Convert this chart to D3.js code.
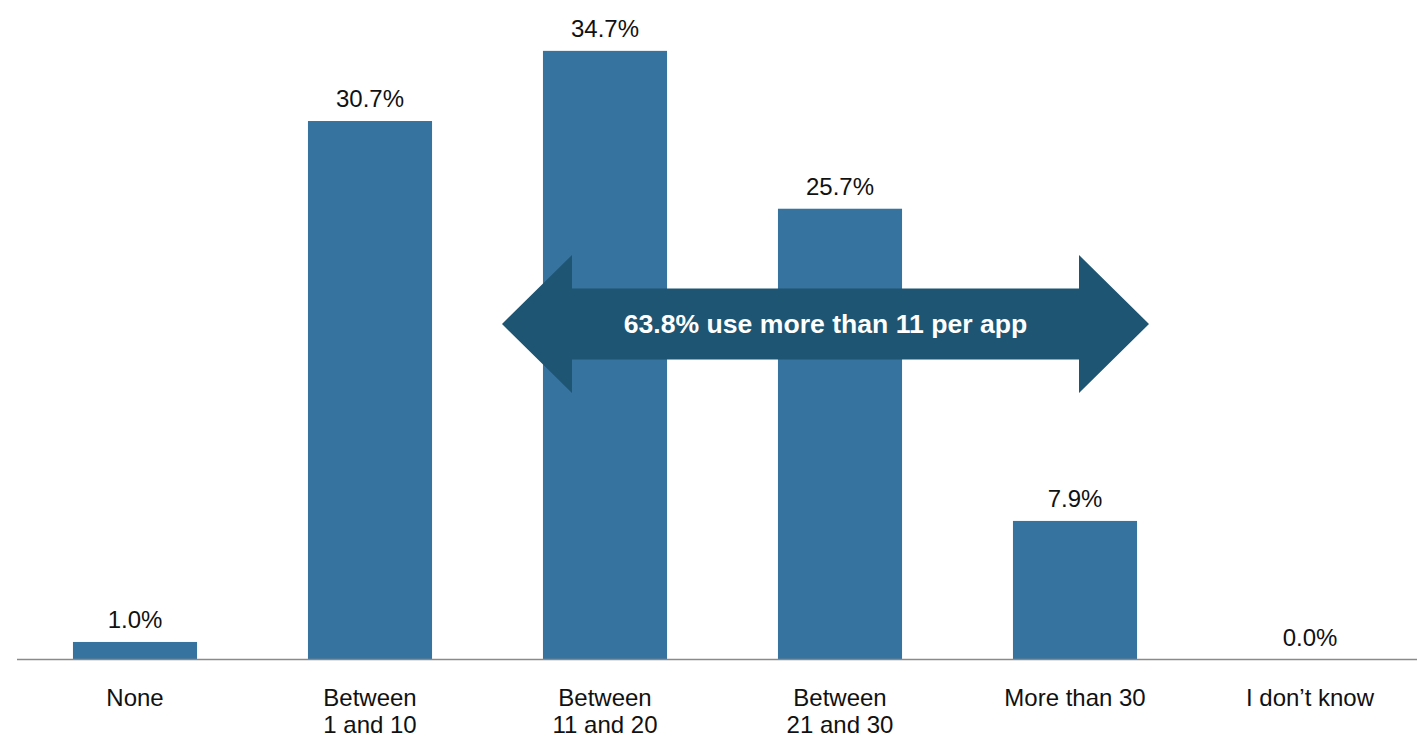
<!DOCTYPE html>
<html>
<head>
<meta charset="utf-8">
<script src="https://cdn.jsdelivr.net/npm/d3@7"></script>
<style>
  html, body { margin: 0; padding: 0; background: #fff; }
  svg { display: block; font-family: "Liberation Sans", Arial, Helvetica, sans-serif; }
</style>
</head>
<body>
<svg id="chart" width="1417" height="738"></svg>
<script>
const categories = [
  ["None"],
  ["Between", "1 and 10"],
  ["Between", "11 and 20"],
  ["Between", "21 and 30"],
  ["More than 30"],
  ["I don\u2019t know"]
];
const values = [1.0, 30.7, 34.7, 25.7, 7.9, 0.0];
const valueLabels = ["1.0%", "30.7%", "34.7%", "25.7%", "7.9%", "0.0%"];
const annotationText = "63.8% use more than 11 per app";

const W = 1417, H = 738;
const baseline = 659.5;
const svg = d3.select("#chart");

const keys = categories.map(c => c.join(" "));
const x = d3.scaleBand()
  .domain(keys)
  .range([17.5, 1427.5])
  .paddingInner(0.472)
  .paddingOuter(0.236);

const y = d3.scaleLinear()
  .domain([0, 37.6])
  .range([baseline, 0]);

const barColor = "#37739f";
const arrowColor = "#1e5573";

// bars
svg.append("g").selectAll("rect")
  .data(values)
  .join("rect")
  .attr("x", (d, i) => x(keys[i]))
  .attr("width", x.bandwidth())
  .attr("y", d => y(d))
  .attr("height", d => baseline - y(d))
  .attr("fill", barColor);

// value labels
svg.append("g").selectAll("text")
  .data(values)
  .join("text")
  .attr("x", (d, i) => x(keys[i]) + x.bandwidth() / 2)
  .attr("y", d => y(d) - 14)
  .attr("text-anchor", "middle")
  .attr("font-size", 24)
  .attr("fill", "#111")
  .text((d, i) => valueLabels[i]);

// axis (baseline line + category labels)
const axis = d3.axisBottom(x).tickSize(0).tickPadding(0).tickFormat("");
const gAxis = svg.append("g")
  .attr("transform", `translate(0,${baseline})`)
  .call(axis);
gAxis.select(".domain").remove();
gAxis.append("line")
  .attr("x1", 17).attr("x2", W)
  .attr("y1", 0).attr("y2", 0)
  .attr("stroke", "#8a8a8a")
  .attr("stroke-width", 1.5);

gAxis.selectAll(".tick").each(function(k, i) {
  const t = d3.select(this).append("text")
    .attr("text-anchor", "middle")
    .attr("font-size", 24)
    .attr("fill", "#111");
  categories[i].forEach((line, j) => {
    t.append("tspan")
      .attr("x", 0)
      .attr("y", 46 + j * 27.5)
      .text(line);
  });
});

// double arrow annotation
const ax0 = 502, ax1 = 1149, ay = 324;
const headW = 70, headH = 69, shaftH = 35.5;
const arrowPts = [
  [ax0, ay],
  [ax0 + headW, ay - headH],
  [ax0 + headW, ay - shaftH],
  [ax1 - headW, ay - shaftH],
  [ax1 - headW, ay - headH],
  [ax1, ay],
  [ax1 - headW, ay + headH],
  [ax1 - headW, ay + shaftH],
  [ax0 + headW, ay + shaftH],
  [ax0 + headW, ay + headH]
];
svg.append("path")
  .attr("d", d3.line()(arrowPts) + "Z")
  .attr("fill", arrowColor);

svg.append("text")
  .attr("x", (ax0 + ax1) / 2)
  .attr("y", ay + 9)
  .attr("text-anchor", "middle")
  .attr("font-size", 26.6)
  .attr("font-weight", "bold")
  .attr("fill", "#fff")
  .text(annotationText);
</script>
</body>
</html>
